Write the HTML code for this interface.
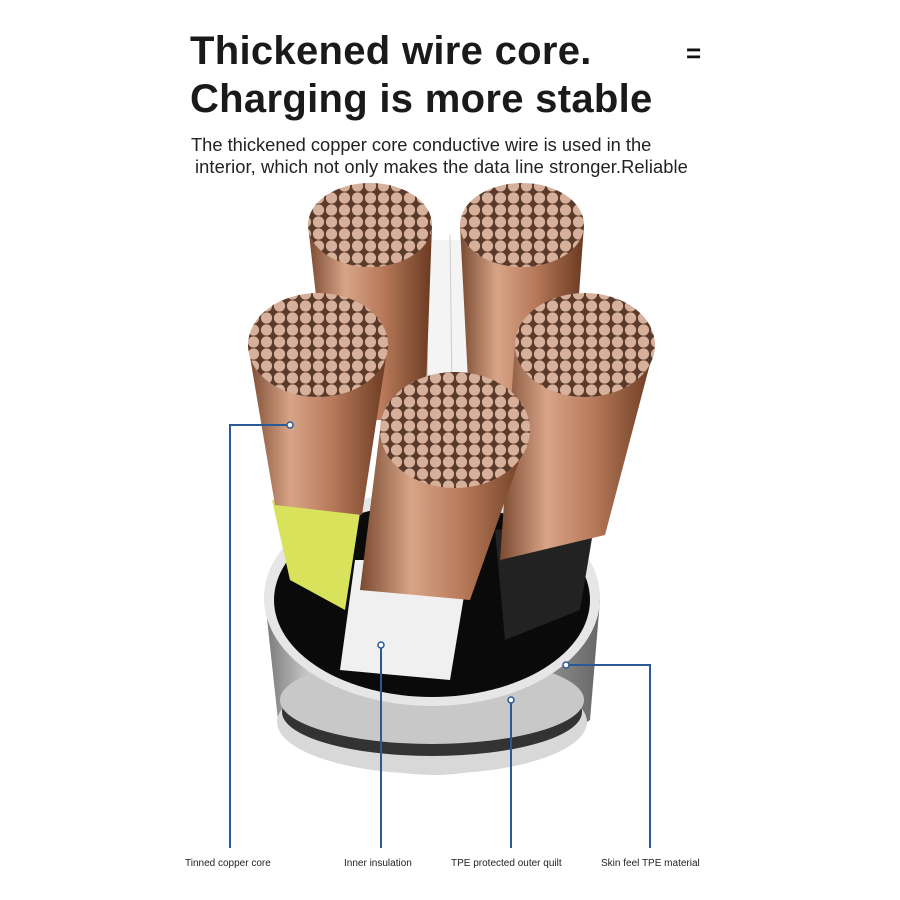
<!DOCTYPE html>
<html><head><meta charset="utf-8"><style>
body{margin:0;background:#fff;width:900px;height:900px;overflow:hidden;position:relative;font-family:"Liberation Sans",sans-serif}
.t{position:absolute;left:190px;font-weight:bold;font-size:40px;color:#1a1a1a;letter-spacing:0.3px}
.s{position:absolute;font-size:18.3px;color:#222}
.l{position:absolute;top:858px;font-size:10px;color:#222}
</style></head><body>
<div class="t" style="top:29px">Thickened wire core.</div>
<div class="t" style="top:77px">Charging is more stable</div>
<div style="position:absolute;left:686px;top:38px;font-size:26px;font-weight:bold;color:#111">=</div>
<div class="s" style="left:191px;top:134px">The thickened copper core conductive wire is used in the</div>
<div class="s" style="left:195px;top:156px;letter-spacing:0.1px">interior, which not only makes the data line stronger.Reliable</div>
<svg width="900" height="900" style="position:absolute;left:0;top:0">
<defs>
<linearGradient id="cu" x1="0" x2="1"><stop offset="0" stop-color="#7a4a30"/><stop offset=".3" stop-color="#d8a488"/><stop offset=".6" stop-color="#b87a5a"/><stop offset="1" stop-color="#6a3a22"/></linearGradient>
<pattern id="dots" width="13" height="12" patternUnits="userSpaceOnUse"><rect width="13" height="12" fill="#5a3a2a"/><circle cx="6.5" cy="6" r="5.6" fill="#d6b09a"/></pattern>
<linearGradient id="ring" x1="0" x2="1"><stop offset="0" stop-color="#777"/><stop offset=".2" stop-color="#f4f4f4"/><stop offset=".6" stop-color="#ccc"/><stop offset="1" stop-color="#666"/></linearGradient>
</defs>
<path d="M265 600 L278 720 Q432 830 590 720 L600 600 Z" fill="url(#ring)"/>
<ellipse cx="432" cy="722" rx="155" ry="52" fill="#d8d8d8"/>
<ellipse cx="432" cy="712" rx="150" ry="44" fill="#333"/>
<ellipse cx="432" cy="700" rx="152" ry="44" fill="#c8c8c8"/>
<ellipse cx="432" cy="598" rx="168" ry="108" fill="#e6e6e6"/>
<ellipse cx="432" cy="600" rx="158" ry="97" fill="#0a0a0a"/>
<path d="M272 500 L362 500 L345 610 L290 580 Z" fill="#d8e25a"/>
<path d="M355 560 L470 560 L450 680 L340 670 Z" fill="#f0f0f0"/>
<path d="M495 530 L595 520 L580 610 L505 640 Z" fill="#222"/>
<rect x="395" y="240" width="110" height="160" fill="#f4f4f4"/>
<g stroke="#ccc" stroke-width="1"><line x1="405" y1="250" x2="410" y2="390"/><line x1="425" y1="240" x2="428" y2="390"/><line x1="450" y1="235" x2="452" y2="390"/><line x1="475" y1="240" x2="472" y2="390"/><line x1="495" y1="250" x2="490" y2="390"/></g>
<path d="M308 225 L432 225 L425 420 L330 420 Z" fill="url(#cu)"/>
<ellipse cx="370" cy="225" rx="62" ry="42" fill="url(#dots)"/>
<path d="M460 225 L584 225 L570 420 L470 420 Z" fill="url(#cu)"/>
<ellipse cx="522" cy="225" rx="62" ry="42" fill="url(#dots)"/>
<path d="M248 345 L388 345 L362 515 L275 505 Z" fill="url(#cu)"/>
<ellipse cx="318" cy="345" rx="70" ry="52" fill="url(#dots)"/>
<path d="M515 345 L655 345 L605 535 L500 560 Z" fill="url(#cu)"/>
<ellipse cx="585" cy="345" rx="70" ry="52" fill="url(#dots)"/>
<path d="M380 430 L530 430 L470 600 L360 590 Z" fill="url(#cu)"/>
<ellipse cx="455" cy="430" rx="75" ry="58" fill="url(#dots)"/>
<g stroke="#2a5a96" stroke-width="2" fill="none">
<polyline points="290,425 230,425 230,848"/>
<line x1="381" y1="645" x2="381" y2="848"/>
<line x1="511" y1="700" x2="511" y2="848"/>
<polyline points="566,665 650,665 650,848"/>
</g>
<g fill="#fff" stroke="#2a5a96" stroke-width="1.5"><circle cx="290" cy="425" r="3"/><circle cx="381" cy="645" r="3"/><circle cx="511" cy="700" r="3"/><circle cx="566" cy="665" r="3"/></g>
</svg>
<div class="l" style="left:185px">Tinned copper core</div>
<div class="l" style="left:344px">Inner insulation</div>
<div class="l" style="left:451px">TPE protected outer quilt</div>
<div class="l" style="left:601px">Skin feel TPE material</div>
</body></html>
